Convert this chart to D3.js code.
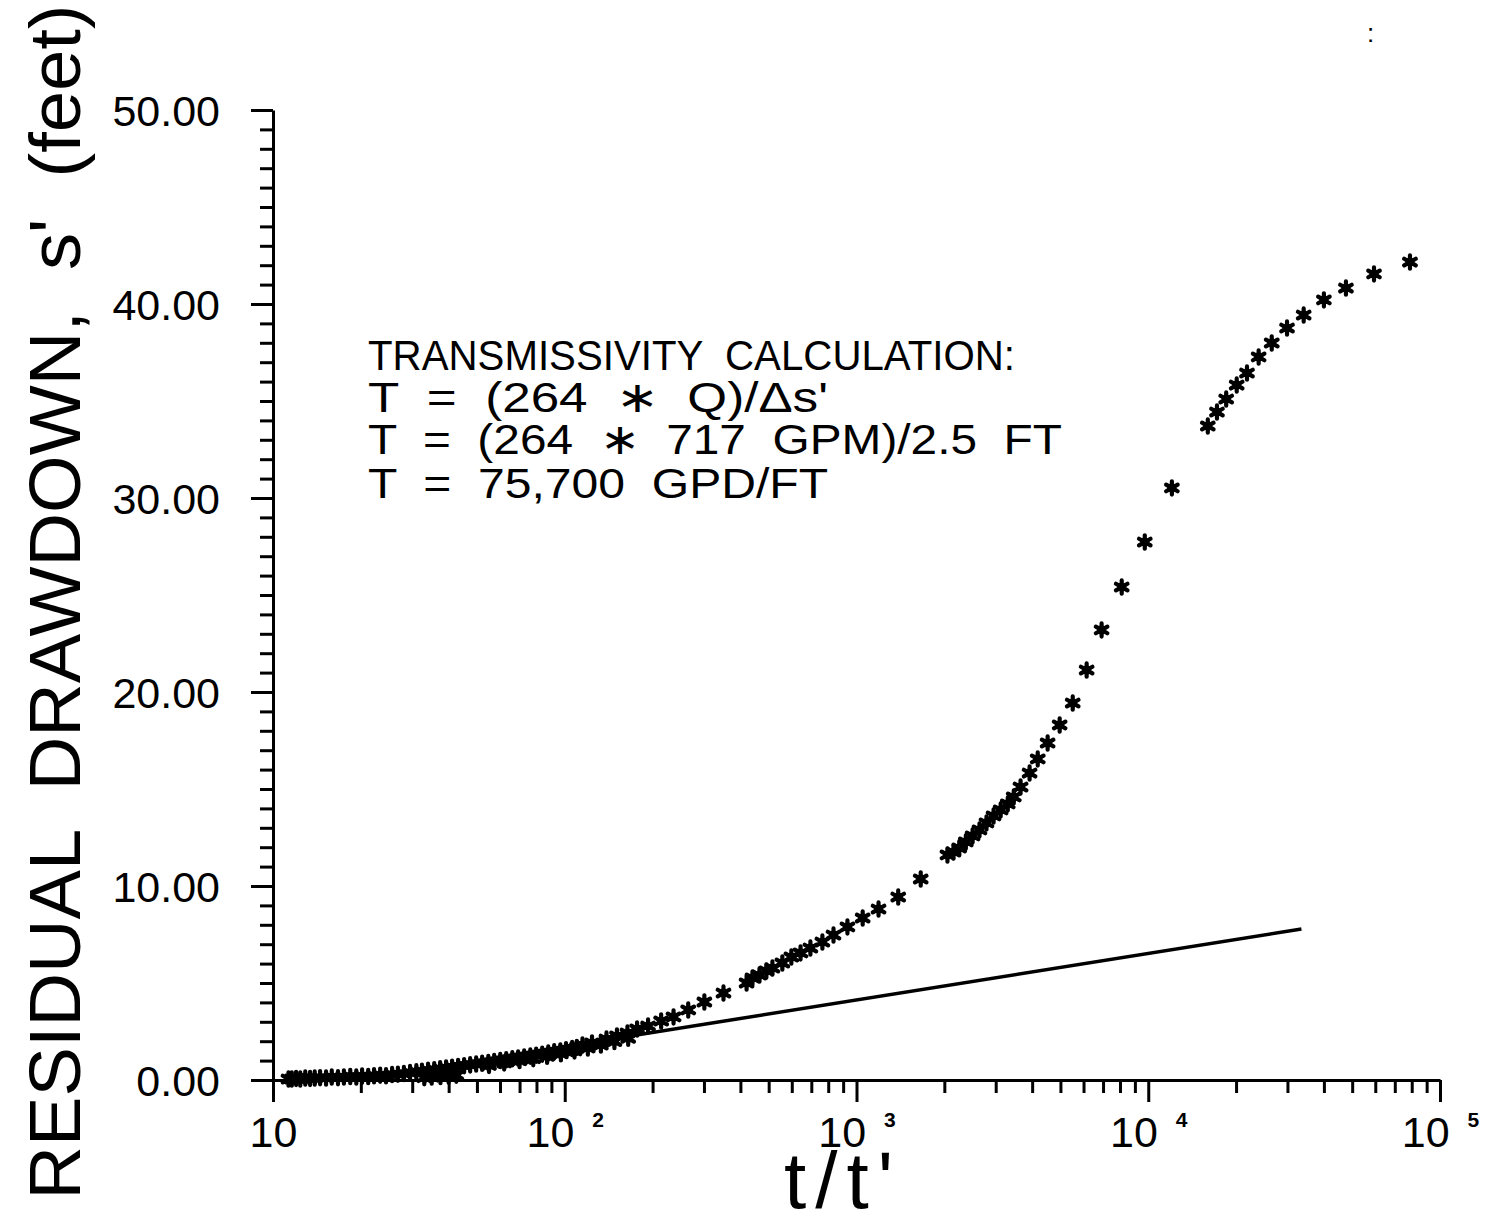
<!DOCTYPE html>
<html>
<head>
<meta charset="utf-8">
<script src="https://cdn.jsdelivr.net/npm/d3@7"></script>
<style>
  body { margin: 0; background: #fff; }
  svg { display: block; }
  text { font-family: "Liberation Sans", Arial, sans-serif; fill: #000; }
</style>
</head>
<body>
<div id="chart"></div>
<script>
// dense band of early points (t/t' small)
const bandRatio = [11.3, 11.6, 12.0, 12.4, 12.9, 13.4, 13.9, 14.5, 15.2, 15.9, 16.7, 17.5, 18.4, 19.3, 20.2, 21.2, 22.2, 23.3, 24.4, 25.6,
  26.8, 28.1, 29.5, 31.0, 32.4, 34.0, 35.7, 37.4, 39.2, 41.1, 43.1, 45.2, 47.4, 49.7, 52.1, 54.7, 57.3, 60.1, 63.0, 66.1,
  69.2, 72.6, 76.2, 79.8, 83.7, 87.8, 92.0, 96.6, 101, 106, 110];
const bandDrawdown = [0.05, 0.05, 0.08, 0.05, 0.1, 0.08, 0.1, 0.12, 0.1, 0.15, 0.12, 0.15, 0.18, 0.15, 0.2, 0.18, 0.22, 0.25, 0.22, 0.28,
  0.3, 0.33, 0.38, 0.42, 0.45, 0.5, 0.53, 0.58, 0.62, 0.66, 0.7, 0.74, 0.78, 0.82, 0.86, 0.9, 0.95, 1.0, 1.04, 1.09,
  1.13, 1.18, 1.23, 1.28, 1.33, 1.39, 1.45, 1.5, 1.56, 1.62, 1.68];

// lower row inside the band
const lowerRatio = [33, 35, 37.5, 40, 42.5, 55, 62, 70, 78, 87, 97, 108, 120, 133, 148, 165];
const lowerDrawdown = [0.12, 0.15, 0.18, 0.2, 0.25, 0.75, 0.88, 1.0, 1.1, 1.22, 1.35, 1.5, 1.65, 1.8, 1.98, 2.15];

// separated points toward late t/t'
const upperRatio = [115, 124, 139, 151, 164, 177, 193, 214, 236, 265, 301, 350, 420, 440, 465, 491, 515, 557, 598, 643,
  695, 764, 834, 931, 1050, 1190, 1390, 1660, 2050, 2150, 2250, 2370, 2500, 2640, 2790, 2950, 3120, 3300, 3460, 3650,
  3920, 4180, 4520, 4970, 5510, 6150, 6920, 8110, 9730, 12050, 16000, 17200, 18500, 20100, 21800, 23900, 26500, 29900,
  34100, 40000, 47600, 59400, 78900];
const upperDrawdown = [1.80, 1.91, 2.11, 2.27, 2.42, 2.63, 2.78, 3.04, 3.25, 3.61, 4.02, 4.48, 5.00, 5.26, 5.41, 5.62, 5.77, 6.03, 6.34, 6.55,
  6.80, 7.11, 7.47, 7.89, 8.35, 8.81, 9.43, 10.36, 11.60, 11.75, 11.96, 12.27, 12.58, 12.89, 13.25, 13.61, 13.92, 14.23, 14.59, 15.10,
  15.82, 16.55, 17.37, 18.30, 19.43, 21.13, 23.20, 25.41, 27.73, 30.52, 33.71, 34.43, 35.10, 35.82, 36.44, 37.27, 37.99, 38.76,
  39.43, 40.21, 40.82, 41.55, 42.16];

// fitted straight line (2.5 ft per log cycle)
const lineRatio = [19, 33500];
const lineDrawdown = [0, 7.78];

const xMajorTicks = [10, 100, 1000, 10000, 100000];
const xTickBases = ['10', '10', '10', '10', '10'];
const xTickExps = ['', '2', '3', '4', '5'];
const yMajorTicks = [0, 10, 20, 30, 40, 50];

const noteLines = [
  'TRANSMISSIVITY  CALCULATION:',
  'T  =  (264  \u2217  Q)/\u0394s\'',
  'T  =  (264  \u2217  717  GPM)/2.5  FT',
  'T  =  75,700  GPD/FT',
];
const noteWidths = [647, 460, 694, 460];

const width = 1485;
const height = 1222;

const svg = d3.select('#chart').append('svg').attr('width', width).attr('height', height);

const xScale = d3.scaleLog().domain([10, 100000]).range([273, 1440]);
const yScale = d3.scaleLinear().domain([0, 50]).range([1080, 110]);

// minor ticks
const xMinor = xScale.ticks().filter((d) => !xMajorTicks.includes(d));
const yMinor = yScale.ticks(50).filter((d) => !yMajorTicks.includes(d));

const xMinorGroup = svg.append('g').attr('transform', 'translate(0,1080)')
  .call(d3.axisBottom(xScale).tickValues(xMinor).tickSize(13).tickFormat(''));
xMinorGroup.select('.domain').remove();

const yMinorGroup = svg.append('g').attr('transform', 'translate(273,0)')
  .call(d3.axisLeft(yScale).tickValues(yMinor).tickSize(13).tickFormat(''));
yMinorGroup.select('.domain').remove();

// major axes
const xAxisGroup = svg.append('g').attr('transform', 'translate(0,1080)')
  .call(d3.axisBottom(xScale).tickValues(xMajorTicks).tickSize(22).tickSizeOuter(0).tickFormat(''));

const yAxisGroup = svg.append('g').attr('transform', 'translate(273,0)')
  .call(d3.axisLeft(yScale).tickValues(yMajorTicks).tickSize(22).tickSizeOuter(0).tickPadding(31).tickFormat(d3.format('.2f')));

svg.selectAll('.domain, .tick line').attr('stroke', '#000').attr('stroke-width', 3);

yAxisGroup.selectAll('.tick text').style('font-size', '43px').attr('dy', '0.36em');

xAxisGroup.selectAll('.tick text')
  .attr('y', 67)
  .attr('dy', null)
  .each(function (d, i) {
    const t = d3.select(this);
    t.append('tspan').style('font-size', '43px').text(xTickBases[i]);
    if (xTickExps[i]) {
      t.append('tspan').attr('dx', 18).attr('dy', -20).style('font-size', '21px').style('font-weight', 'bold').text(xTickExps[i]);
    }
  });

// fitted line
const lineData = d3.zip(lineRatio, lineDrawdown);
svg.append('path')
  .datum(lineData)
  .attr('fill', 'none')
  .attr('stroke', '#000')
  .attr('stroke-width', 3.5)
  .attr('d', d3.line().x((d) => xScale(d[0])).y((d) => yScale(d[1])));

// points
const points = [].concat(
  d3.zip(bandRatio, bandDrawdown),
  d3.zip(lowerRatio, lowerDrawdown),
  d3.zip(upperRatio, upperDrawdown)
);

const star = d3.symbol(d3.symbolAsterisk, 125);
const pointGroup = svg.append('g');
pointGroup.selectAll('circle')
  .data(points)
  .join('circle')
  .attr('cx', (d) => xScale(d[0]))
  .attr('cy', (d) => yScale(d[1]))
  .attr('r', 4.6)
  .attr('fill', '#000');
pointGroup.selectAll('path')
  .data(points)
  .join('path')
  .attr('transform', (d) => `translate(${xScale(d[0])},${yScale(d[1])})`)
  .attr('d', star)
  .attr('fill', 'none')
  .attr('stroke', '#000')
  .attr('stroke-width', 4.2)
  .attr('stroke-linecap', 'round');

// annotation
const noteBaselines = [370, 412, 454, 498];
svg.append('g')
  .selectAll('text')
  .data(noteLines)
  .join('text')
  .attr('x', 368)
  .attr('y', (d, i) => noteBaselines[i])
  .attr('textLength', (d, i) => noteWidths[i])
  .attr('lengthAdjust', 'spacingAndGlyphs')
  .style('font-size', '43px')
  .style('white-space', 'pre')
  .text((d) => d);

// axis titles
svg.append('text')
  .attr('transform', 'translate(80,602) rotate(-90)')
  .attr('text-anchor', 'middle')
  .attr('textLength', 1195)
  .attr('lengthAdjust', 'spacingAndGlyphs')
  .style('font-size', '72px')
  .style('white-space', 'pre')
  .text("RESIDUAL  DRAWDOWN,  s'  (feet)");

svg.append('text')
  .attr('x', 843)
  .attr('y', 1208)
  .attr('text-anchor', 'middle')
  .style('font-size', '80px')
  .style('letter-spacing', '9px')
  .text("t/t'");

// scan speck at top right
svg.append('text')
  .attr('x', 1367)
  .attr('y', 42)
  .style('font-size', '26px')
  .text(':');
</script>
</body>
</html>
